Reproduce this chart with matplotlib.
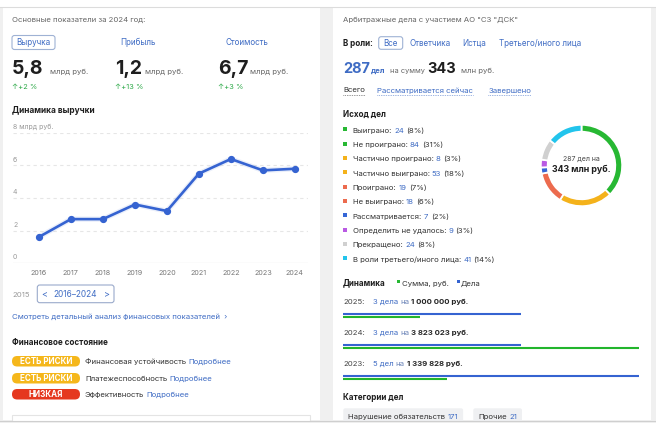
import matplotlib
matplotlib.use('Agg')
import matplotlib.pyplot as plt
from matplotlib.patches import FancyBboxPatch, Rectangle

plt.rcParams['font.family'] = ['Inter', 'DejaVu Sans']

# ---- data ----
kpi_names = ['Выручка', 'Прибыль', 'Стоимость']
kpi_values = ['5,8', '1,2', '6,7']
kpi_units = ['млрд руб.', 'млрд руб.', 'млрд руб.']
kpi_changes = ['↑+2 %', '↑+13 %', '↑+3 %']

rev_years = [2016, 2017, 2018, 2019, 2020, 2021, 2022, 2023, 2024]
rev_values = [1.6, 2.7, 2.7, 3.6, 3.2, 5.5, 6.4, 5.7, 5.8]
rev_ticks = [0, 2, 4, 6, 8]
rev_tick_labels = ['0', '2', '4', '6', '8 млрд руб.']

risk_badges = ['ЕСТЬ РИСКИ', 'ЕСТЬ РИСКИ', 'НИЗКАЯ']
risk_colors = ['#f5b71b', '#f5b71b', '#e5381f']
risk_names = ['Финансовая устойчивость', 'Платежеспособность', 'Эффективность']

roles = ['Ответчика', 'Истца', 'Третьего/иного лица']
total_cases = 287
total_sum = 343

outcome_labels = ['Выиграно', 'Не проиграно', 'Частично проиграно', 'Частично выиграно',
                  'Проиграно', 'Не выиграно', 'Рассматривается', 'Определить не удалось',
                  'Прекращено', 'В роли третьего/иного лица']
outcome_counts = [24, 84, 8, 53, 19, 18, 7, 9, 24, 41]
outcome_pcts = [8, 31, 3, 18, 7, 6, 2, 3, 8, 14]
outcome_colors = ['#27b833', '#27b833', '#f4b21b', '#f4b21b', '#ec6b4e', '#ec6b4e',
                  '#3566d6', '#b95ae3', '#d0d0d0', '#22c4ec']

dyn_years = [2025, 2024, 2023]
dyn_cases = [3, 3, 5]
dyn_case_words = ['дела', 'дела', 'дел']
dyn_sums = [1000000, 3823023, 1339828]

cat_names = ['Нарушение обязательств', 'Прочие']
cat_counts = [171, 21]

# ---- styles ----
W, H = 656, 423
DARK = '#262626'
GRAY = '#666666'
LIGHT = '#9a9a9a'
BLUE = '#3f6cc4'
GREEN = '#2aa845'
LINE_BLUE = '#3563d1'
FS = 5.6

fig = plt.figure(figsize=(W / 100, H / 100), dpi=100)
fig.patch.set_facecolor('#f0f0f0')
# pixel canvas: 1 unit = 1 px, y goes down
bg = fig.add_axes([0, 0, 1, 1])
bg.set_xlim(0, W)
bg.set_ylim(H, 0)
bg.axis('off')
r = fig.canvas.get_renderer()


def txt(x, y, s, size=FS, color=DARK, weight='normal', ha='left', va='baseline'):
    return bg.text(x, y, s, fontsize=size, color=color, fontweight=weight, ha=ha, va=va)


def run(x, y, parts, gap=2.2):
    """draw text pieces one after another on one baseline"""
    for s, color, weight, size in parts:
        t = txt(x, y, s, size=size, color=color, weight=weight)
        x += t.get_window_extent(r).width + gap
    return x


def box(x, y, w, h, fc='white', ec='none', rs=2.5, lw=0.8):
    bg.add_patch(FancyBboxPatch((x, y), w, h, boxstyle=f'round,pad=0,rounding_size={rs}',
                                fc=fc, ec=ec, lw=lw))


# page background and cards
bg.add_patch(Rectangle((0, 0), W, 7, fc='white', ec='none'))
bg.plot([0, W], [7.5, 7.5], color='#dcdcdc', lw=0.8)
bg.add_patch(Rectangle((3, 8), 317, 412, fc='white', ec='none'))
bg.add_patch(Rectangle((333, 0), 318, 420, fc='white', ec='none'))
bg.add_patch(Rectangle((12, 415), 298, 10, fc='white', ec='#e4e4e4', lw=0.8))

# ---- left card: key figures ----
txt(12, 22, 'Основные показатели за 2024 год:', color=GRAY)
box(12, 35.5, 43, 14, ec='#9fb2d4')
kpi_x = [33.5, 120, 225]
for i, name in enumerate(kpi_names):
    txt(kpi_x[i], 45, name, size=5.8, color=BLUE, ha='center' if i == 0 else 'left')
num_x = [12, 115, 218]
unit_x = [50, 145, 250]
for i in range(3):
    txt(num_x[i], 74, kpi_values[i], size=14, weight='bold', color='#1e1e1e')
    txt(unit_x[i], 74, kpi_units[i], color=GRAY)
    txt(num_x[i], 89, kpi_changes[i], size=5.4, color=GREEN)

txt(12, 113, 'Динамика выручки', size=6, weight='bold', color='#1e1e1e')

# revenue line chart
ax = fig.add_axes([13 / W, 1 - 263 / H, 295 / W, 130 / H])
ax.patch.set_alpha(0)
ax.set_xlim(2015.19, 2024.41)
ax.set_ylim(0, 8)
for s in ax.spines.values():
    s.set_visible(False)
ax.set_xticks([])
ax.set_yticks([])
for v, lbl in zip(rev_ticks, rev_tick_labels):
    if v == 0:
        ax.axhline(v, color='#e4e4e4', lw=0.9, zorder=1)
    else:
        ax.axhline(v, color='#e6e6e6', lw=0.8, ls=(0, (3, 3)), zorder=1)
    ax.annotate(lbl, (2015.19, v), xytext=(0, 2), textcoords='offset points',
                fontsize=5, color=LIGHT, va='bottom', ha='left')
for yr in rev_years:
    ax.annotate(str(yr), (yr, 0), xytext=(0, -8.5), textcoords='offset points',
                fontsize=5.2, color='#777777', va='baseline', ha='center')
ax.plot(rev_years, rev_values, color=LINE_BLUE, lw=3.8, alpha=0.1, zorder=2,
        solid_capstyle='round')
ax.plot(rev_years, rev_values, color=LINE_BLUE, lw=1.9, marker='o', ms=4.2,
        zorder=3, clip_on=False)

# period selector
txt(12, 296.7, '2015', color=LIGHT)
box(37.3, 285, 76.7, 17.7, ec='#9aaacb')
txt(75.5, 296.7, '2016–2024', size=6, color=BLUE, ha='center')
txt(44, 296.7, '<', size=6.5, color=BLUE, ha='center')
txt(107, 296.7, '>', size=6.5, color=BLUE, ha='center')

txt(12, 319, 'Смотреть детальный анализ финансовых показателей  ›', color=BLUE)

txt(12, 345, 'Финансовое состояние', size=5.8, weight='bold', color='#1e1e1e')
badge_y = [356, 373, 389]
for i in range(3):
    box(12, badge_y[i], 68, 10.5, fc=risk_colors[i], rs=5.2)
    txt(46, badge_y[i] + 5.4, risk_badges[i], size=5.8, color='white', weight='bold',
        ha='center', va='center')
    run(85, badge_y[i] + 8, [(risk_names[i], '#333333', 'normal', FS),
                             ('Подробнее', BLUE, 'normal', FS)])

# ---- right card: court cases ----
txt(343, 21.5, 'Арбитражные дела с участием АО "СЗ "ДСК"', color=GRAY)
txt(343, 45.5, 'В роли:', size=5.8, weight='bold', color='#1e1e1e')
box(378.7, 36.7, 24, 12.6, ec='#9fb2d4')
txt(390.7, 45.5, 'Все', size=5.8, color=BLUE, ha='center')
role_x = [409, 462.7, 498.7]
for x, role in zip(role_x, roles):
    txt(x, 45.5, role, size=5.8, color=BLUE)

txt(343, 73.3, str(total_cases), size=10.5, weight='bold', color=BLUE)
txt(371, 73.3, 'дел', size=5.6, weight='bold', color=BLUE)
txt(390, 73.3, 'на сумму', size=5.3, color=GRAY)
txt(427.5, 73.3, str(total_sum), size=10.5, weight='bold', color='#1e1e1e')
txt(460.7, 73.3, 'млн руб.', color=GRAY)

for x, s, c in [(343, 'Всего', '#333333'), (376.7, 'Рассматривается сейчас', BLUE),
                (488.3, 'Завершено', BLUE)]:
    t = txt(x, 92.5, s, color=c)
    w = t.get_window_extent(r).width
    bg.plot([x, x + w], [95, 95], color=c, lw=0.5, ls=(0, (1, 1.5)))

txt(343, 116.7, 'Исход дел', size=5.8, weight='bold', color='#1e1e1e')
for i, lbl in enumerate(outcome_labels):
    y = 132.7 + i * 14.33
    bg.add_patch(Rectangle((343.3, y - 5.5), 4, 4, fc=outcome_colors[i], ec='none'))
    run(352.7, y, [(lbl + ':', '#333333', 'normal', FS),
                   (str(outcome_counts[i]), BLUE, 'normal', FS),
                   (f'({outcome_pcts[i]}%)', '#333333', 'normal', FS)])

# donut, neighbouring categories of the same colour merged
grp_vals, grp_cols = [], []
for v, c in zip(outcome_counts, outcome_colors):
    if grp_cols and grp_cols[-1] == c:
        grp_vals[-1] += v
    else:
        grp_vals.append(v)
        grp_cols.append(c)
dax = fig.add_axes([540 / W, 1 - 207 / H, 83 / W, 83 / H])
dax.pie(grp_vals, colors=grp_cols, startangle=90, counterclock=False, radius=1,
        wedgeprops=dict(width=0.17, edgecolor='white', linewidth=1.3))
dax.set_xlim(-1.02, 1.02)
dax.set_ylim(-1.02, 1.02)
txt(581.5, 159.3, f'{total_cases} дел на', size=5, color='#444444', ha='center', va='center')
txt(581.5, 169.5, f'{total_sum} млн руб.', size=6.4, weight='bold', color='#1e1e1e',
    ha='center', va='center')

# yearly dynamics
txt(343, 285.7, 'Динамика', size=5.8, weight='bold', color='#1e1e1e')
bg.add_patch(Rectangle((397.3, 280.5), 3, 3, fc=outcome_colors[0], ec='none'))
txt(402, 285.7, 'Сумма, руб.', color='#333333')
bg.add_patch(Rectangle((456.7, 280.5), 3, 3, fc=LINE_BLUE, ec='none'))
txt(461, 285.7, 'Дела', color='#333333')

bar_x0, bar_w = 343, 296
text_y = [303.7, 335, 366]
for i, yr in enumerate(dyn_years):
    y = text_y[i]
    txt(343, y, f'{yr}:', color='#444444')
    sum_txt = f'{dyn_sums[i]:,}'.replace(',', ' ') + ' руб.'
    run(372.7, y, [(f'{dyn_cases[i]} {dyn_case_words[i]}', BLUE, 'normal', FS),
                   ('на', '#6b84b8', 'normal', FS),
                   (sum_txt, '#262626', 'bold', FS)])
    bw = dyn_cases[i] / max(dyn_cases) * bar_w
    gw = dyn_sums[i] / max(dyn_sums) * bar_w
    bg.plot([bar_x0, bar_x0 + bw], [y + 10, y + 10], color=LINE_BLUE, lw=1.5,
            solid_capstyle='butt')
    bg.plot([bar_x0, bar_x0 + gw], [y + 13.3, y + 13.3], color='#22b52c', lw=1.5,
            solid_capstyle='butt')

txt(343, 400, 'Категории дел', size=5.8, weight='bold', color='#1e1e1e')
chip_x = [343.3, 473.3]
for i, name in enumerate(cat_names):
    t1 = txt(chip_x[i] + 5, 419.3, name, color='#333333')
    w1 = t1.get_window_extent(r).width
    t2 = txt(chip_x[i] + 5 + w1 + 2.2, 419.3, str(cat_counts[i]), color=BLUE)
    w2 = t2.get_window_extent(r).width
    box(chip_x[i], 408.3, w1 + w2 + 12.2, 20, fc='#eff0f2', rs=2)
    t1.set_zorder(3)
    t2.set_zorder(3)

# bottom edge of the screenshot covers the last row
bg.add_patch(Rectangle((0, 421), W, 3, fc='#f0f0f0', ec='none', zorder=4))
bg.plot([0, W], [420.8, 420.8], color='#cfcfcf', lw=0.8, zorder=5)

fig.savefig('out.png', dpi=100, facecolor=fig.get_facecolor())
